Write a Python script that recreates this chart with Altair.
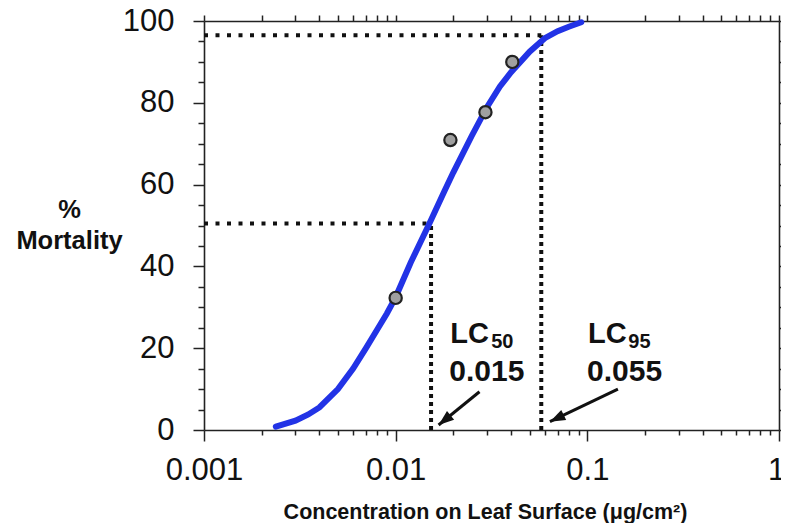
import altair as alt
import pandas as pd

FONT = "Liberation Sans"

# fitted dose-response curve
curve_x = [0.00237, 0.003, 0.0035, 0.004, 0.005, 0.006, 0.007, 0.008, 0.009, 0.01,
           0.012, 0.015, 0.018, 0.02, 0.025, 0.03, 0.035, 0.04, 0.05, 0.06, 0.07, 0.08, 0.093]
curve_y = [0.8, 2.3, 3.8, 5.5, 10, 15, 20, 24.5, 28.5, 32.5,
           41, 50.5, 58.5, 63, 72, 79, 84, 87.5, 92.5, 95.8, 97.5, 98.6, 99.7]

# observed mortality
obs_x = [0.01, 0.0193, 0.0294, 0.0406]
obs_y = [32.3, 70.9, 77.7, 90.0]

# LC reference lines
lc_x = [0.0153, 0.0575]
lc_y = [50.5, 96.5]
x_start = [0.001, 0.001]

# annotation labels
lc_text = ["LC", "LC"]
lc_text_x = [0.01927, 0.1009]
lc_text_y = [21.3, 21.3]
sub_text = ["50", "95"]
sub_x = [0.0315, 0.1635]
sub_y = [20.0, 20.0]
val_text = ["0.015", "0.055"]
val_x = [0.0299, 0.1564]
val_y = [12.0, 12.0]

# arrows
tail_x = [0.02737, 0.1444]
tail_y = [9.36, 10.0]
tip_x = [0.01675, 0.0638]
tip_y = [1.22, 2.03]
tip_angle = [231, 244]

# ticks
x_ticks = [0.001, 0.002, 0.003, 0.004, 0.005, 0.006, 0.007, 0.008, 0.009,
           0.01, 0.02, 0.03, 0.04, 0.05, 0.06, 0.07, 0.08, 0.09,
           0.1, 0.2, 0.3, 0.4, 0.5, 0.6, 0.7, 0.8, 0.9, 1]
y_ticks = list(range(0, 101, 5))

curve_df = pd.DataFrame({"x": curve_x, "y": curve_y})
obs_df = pd.DataFrame({"x": obs_x, "y": obs_y})
h_df = pd.DataFrame({"x": x_start, "x2": lc_x, "y": lc_y})
v_df = pd.DataFrame({"x": lc_x, "y": [0, 0], "y2": lc_y})
lc_df = pd.DataFrame({"x": lc_text_x, "y": lc_text_y, "t": lc_text})
sub_df = pd.DataFrame({"x": sub_x, "y": sub_y, "t": sub_text})
val_df = pd.DataFrame({"x": val_x, "y": val_y, "t": val_text})
arr_df = pd.DataFrame({"x": tail_x, "y": tail_y, "x2": tip_x, "y2": tip_y, "a": tip_angle})

xscale = alt.Scale(type="log", domain=[0.001, 1], nice=False)
yscale = alt.Scale(domain=[0, 100], nice=False, zero=False)

decade_test = "abs(log(datum.value)/LN10 - round(log(datum.value)/LN10)) < 0.001"

common = dict(domainColor="#222", domainWidth=1.6, tickColor="#222", tickWidth=1.5,
              grid=False, labelFont=FONT, labelColor="#111", titleFont=FONT,
              titleColor="#111")

x_bottom = alt.Axis(
    orient="bottom", values=x_ticks, format="~g",
    labelExpr="(" + decade_test + ") ? datum.label : ''",
    labelOffset={"condition": {"test": "datum.value >= 0.999", "value": -3}, "value": 0},
    tickSize={"condition": {"test": decade_test, "value": 11}, "value": 5},
    labelFontSize=31, labelPadding=14, labelFlush=False, labelOverlap=False,
    title="Concentration on Leaf Surface (μg/cm²)", titleFontSize=21.5,
    titleFontWeight="bold", titleX=281, titleY=88, titleBaseline="alphabetic",
    titleAlign="center", titleAnchor="start", **common)
y_left = alt.Axis(
    orient="left", values=y_ticks,
    labelExpr="datum.value % 20 === 0 ? datum.label : ''",
    tickSize={"condition": {"test": "datum.value % 20 === 0", "value": 11}, "value": 6},
    labelFontSize=31, labelPadding=19, labelOverlap=False, labelBaseline="middle",
    title=["%", "Mortality"], titleFontSize=25.5, titleFontWeight="bold",
    titleAngle=0, titleX=-135, titleY=196, titleAlign="center",
    titleBaseline="alphabetic", titleLineHeight=31, titleAnchor="start", **common)
x_top = alt.Axis(orient="top", values=x_ticks, labels=False, tickSize=6,
                 title=None, **common)
y_right = alt.Axis(orient="right", values=y_ticks, labels=False, tickSize=4,
                   title=None, **common)

curve = alt.Chart(curve_df).mark_line(
    color="#2233e6", strokeWidth=6, strokeCap="round").encode(
    x=alt.X("x:Q", scale=xscale, axis=x_bottom),
    y=alt.Y("y:Q", scale=yscale, axis=y_left))

h_lines = alt.Chart(h_df).mark_rule(
    color="#111", strokeWidth=4, strokeDash=[4, 7.5]).encode(
    x=alt.X("x:Q", scale=xscale, axis=None), x2="x2:Q",
    y=alt.Y("y:Q", scale=yscale, axis=None))

v_lines = alt.Chart(v_df).mark_rule(
    color="#111", strokeWidth=4, strokeDash=[4, 4]).encode(
    x=alt.X("x:Q", scale=xscale, axis=None),
    y=alt.Y("y:Q", scale=yscale, axis=None), y2="y2:Q")

points = alt.Chart(obs_df).mark_point(
    filled=True, fill="#a0a0a0", stroke="#222", strokeWidth=2.2, size=150,
    opacity=1, shape="circle").encode(
    x=alt.X("x:Q", scale=xscale, axis=x_top),
    y=alt.Y("y:Q", scale=yscale, axis=y_right))

arrow_lines = alt.Chart(arr_df).mark_rule(color="#111", strokeWidth=3).encode(
    x=alt.X("x:Q", scale=xscale, axis=None), x2="x2:Q",
    y=alt.Y("y:Q", scale=yscale, axis=None), y2="y2:Q")

arrow_heads = alt.Chart(arr_df).mark_point(
    filled=True, color="#111", opacity=1, size=420,
    shape="M0,0 L0.55,1.5 L-0.55,1.5 Z").encode(
    x=alt.X("x2:Q", scale=xscale, axis=None),
    y=alt.Y("y2:Q", scale=yscale, axis=None),
    angle=alt.Angle("a:Q", scale=None))

lc_labels = alt.Chart(lc_df).mark_text(
    font=FONT, fontWeight="bold", fontSize=29, align="left",
    baseline="alphabetic", color="#111").encode(
    x=alt.X("x:Q", scale=xscale, axis=None),
    y=alt.Y("y:Q", scale=yscale, axis=None), text="t:N")

sub_labels = alt.Chart(sub_df).mark_text(
    font=FONT, fontWeight="bold", fontSize=20, align="left",
    baseline="alphabetic", color="#111").encode(
    x=alt.X("x:Q", scale=xscale, axis=None),
    y=alt.Y("y:Q", scale=yscale, axis=None), text="t:N")

val_labels = alt.Chart(val_df).mark_text(
    font=FONT, fontWeight="bold", fontSize=30, align="center",
    baseline="alphabetic", color="#111").encode(
    x=alt.X("x:Q", scale=xscale, axis=None),
    y=alt.Y("y:Q", scale=yscale, axis=None), text="t:N")

chart = alt.layer(
    h_lines, v_lines, curve, points, arrow_lines, arrow_heads,
    lc_labels, sub_labels, val_labels
).resolve_axis(x="independent", y="independent").properties(
    width=575, height=409,
    autosize=alt.AutoSizeParams(type="none"),
    padding={"left": 196, "top": 13, "right": 2, "bottom": 93},
    background="white"
).configure_view(stroke=None)

chart.save("out.html", embed_options={"renderer": "svg", "actions": False})
